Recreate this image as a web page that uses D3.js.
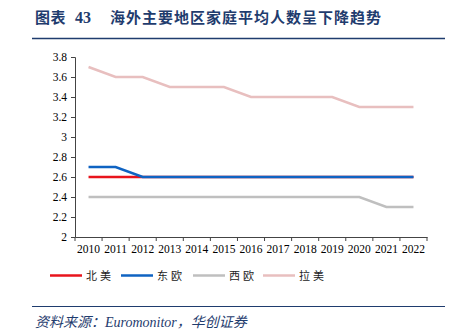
<!DOCTYPE html>
<html><head><meta charset="utf-8">
<script src="https://cdn.jsdelivr.net/npm/d3@7/dist/d3.min.js"></script>
<style>body{margin:0;background:#fff;}</style>
</head><body>
<svg id="c" width="461" height="331"></svg>
<script>
const years = ["2010","2011","2012","2013","2014","2015","2016","2017","2018","2019","2020","2021","2022"];
const seriesNames = ["北美","东欧","西欧","拉美"];
const northAmerica = [2.6,2.6,2.6,2.6,2.6,2.6,2.6,2.6,2.6,2.6,2.6,2.6,2.6];
const easternEurope = [2.7,2.7,2.6,2.6,2.6,2.6,2.6,2.6,2.6,2.6,2.6,2.6,2.6];
const westernEurope = [2.4,2.4,2.4,2.4,2.4,2.4,2.4,2.4,2.4,2.4,2.4,2.3,2.3];
const latinAmerica = [3.7,3.6,3.6,3.5,3.5,3.5,3.4,3.4,3.4,3.4,3.3,3.3,3.3];
const yTicks = [2,2.2,2.4,2.6,2.8,3,3.2,3.4,3.6,3.8];
const titleLabel = "图表";
const titleNum = "43";
const titleText = "海外主要地区家庭平均人数呈下降趋势";
const sourceText = "资料来源：Euromonitor，华创证券";

const colors = ["#E8141C","#0F63C2","#BFBFBF","#E8BFBF"];
const data = [northAmerica, easternEurope, westernEurope, latinAmerica];
const drawOrder = [3,2,0,1];

const svg = d3.select("#c");
const navy = "#1F3C6E";
const cjk = "'Noto Sans CJK SC',sans-serif";
const serif = "'Liberation Serif',serif";

// title
svg.append("text").attr("x",35).attr("y",23).attr("fill",navy)
  .attr("font-family",cjk).attr("font-weight","bold").attr("font-size",15).attr("letter-spacing",0.5)
  .text(titleLabel);
svg.append("text").attr("x",75).attr("y",23).attr("fill",navy)
  .attr("font-family",serif).attr("font-weight","bold").attr("font-size",16)
  .text(titleNum);
svg.append("text").attr("x",110).attr("y",23).attr("fill",navy)
  .attr("font-family",cjk).attr("font-weight","bold").attr("font-size",15).attr("letter-spacing",1)
  .text(titleText);
svg.append("line").attr("x1",32).attr("x2",445).attr("y1",38.5).attr("y2",38.5)
  .attr("stroke",navy).attr("stroke-width",1.5);

const x = d3.scaleBand().domain(years).range([75,427]);
const y = d3.scaleLinear().domain([2,3.8]).range([237,57]);

const xAxis = svg.append("g").attr("transform","translate(0,237)")
  .call(d3.axisBottom(x).tickSize(0).tickPadding(8));
xAxis.attr("font-family",serif).attr("font-size",11.5);
xAxis.selectAll("text").attr("fill","#000");
xAxis.select(".domain").attr("stroke","#444");
const bounds = years.map(d=>x(d)).concat([427]);
xAxis.selectAll(".bt").data(bounds).enter().append("line")
  .attr("x1",d=>d).attr("x2",d=>d).attr("y1",0).attr("y2",4).attr("stroke","#444");

const yAxis = svg.append("g").attr("transform","translate(75,0)")
  .call(d3.axisLeft(y).tickValues(yTicks).tickSize(4).tickPadding(4).tickFormat(d3.format("")));
yAxis.attr("font-family",serif).attr("font-size",11.5);
yAxis.selectAll("text").attr("fill","#000");
yAxis.selectAll("line,path").attr("stroke","#444");

const line = d3.line().x((d,i)=>x(years[i])+x.bandwidth()/2).y(d=>y(d));
drawOrder.forEach(k=>{
  svg.append("path").datum(data[k]).attr("d",line).attr("fill","none")
    .attr("stroke",colors[k]).attr("stroke-width",2.5);
});

// legend
const legX = [50,121,193,263];
seriesNames.forEach((n,i)=>{
  svg.append("line").attr("x1",legX[i]).attr("x2",legX[i]+32).attr("y1",275.5).attr("y2",275.5)
    .attr("stroke",colors[i]).attr("stroke-width",2.5);
  svg.append("text").attr("x",legX[i]+36).attr("y",280).attr("font-size",11)
    .attr("font-family",cjk).attr("fill","#222").attr("letter-spacing",3).text(n);
});

svg.append("line").attr("x1",32).attr("x2",445).attr("y1",306.5).attr("y2",306.5)
  .attr("stroke",navy).attr("stroke-width",1.2);
svg.append("text").attr("x",35).attr("y",327).attr("fill",navy).attr("font-style","italic")
  .attr("font-family","'Liberation Serif','Noto Sans CJK SC',serif").attr("font-size",14).text(sourceText);
</script>
</body></html>
